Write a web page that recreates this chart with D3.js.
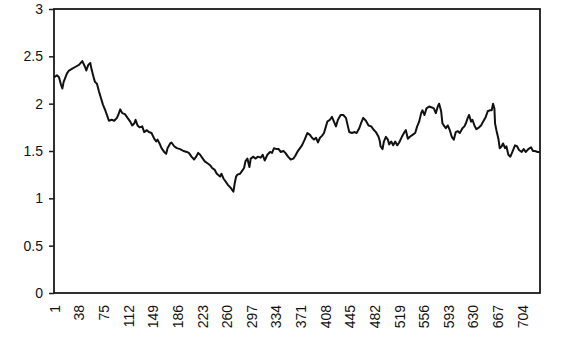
<!DOCTYPE html>
<html>
<head>
<meta charset="utf-8">
<script src="https://cdn.jsdelivr.net/npm/d3@7"></script>
<style>
  body { margin: 0; background: #fff; }
  svg { display: block; }
  .chart text { font-family: "Liberation Sans", Arial, sans-serif; font-size: 14px; fill: #111; }
</style>
</head>
<body>
<div class="chart"></div>
<script>
// day number (category) and the value
const days = [1, 5, 8, 11, 13, 15, 20, 23, 28, 33, 38, 43, 47, 49, 52, 55, 57, 60, 62, 65,
  68, 71, 74, 78, 81, 83, 87, 91, 95, 97, 100, 103, 107, 111, 115, 118, 121, 123, 126, 129,
  133, 136, 140, 143, 147, 151, 154, 156, 159, 162, 166, 169, 171, 175, 177, 181, 185, 190, 195, 200,
  203, 207, 211, 214, 217, 220, 224, 227, 231, 235, 238, 242, 245, 250, 252, 255, 258, 262, 266, 270,
  272, 274, 276, 280, 283, 286, 288, 291, 294, 296, 300, 303, 307, 311, 314, 317, 321, 325, 328, 331,
  335, 338, 341, 345, 348, 352, 356, 360, 363, 366, 370, 373, 377, 381, 385, 388, 391, 394, 397, 400,
  403, 406, 409, 411, 415, 418, 421, 424, 427, 431, 435, 439, 442, 444, 448, 452, 455, 459, 462, 465,
  469, 473, 477, 480, 484, 488, 490, 491, 494, 496, 499, 502, 504, 507, 510, 513, 516, 519, 523, 527,
  529, 532, 535, 539, 543, 546, 549, 552, 554, 557, 560, 564, 568, 571, 574, 577, 579, 582, 584, 587,
  589, 592, 595, 598, 601, 604, 607, 610, 614, 617, 619, 622, 624, 627, 629, 632, 635, 639, 642, 645,
  649, 652, 655, 658, 660, 662, 663, 665, 668, 670, 673, 675, 678, 680, 683, 686, 689, 693, 696, 699,
  703, 706, 709, 713, 717, 720, 723, 727, 730];
const values = [2.28, 2.30, 2.28, 2.20, 2.16, 2.23, 2.32, 2.35, 2.37, 2.39, 2.41, 2.45, 2.39, 2.35, 2.41, 2.43, 2.36, 2.28, 2.23, 2.21,
  2.13, 2.06, 1.99, 1.92, 1.86, 1.82, 1.83, 1.82, 1.85, 1.88, 1.94, 1.90, 1.89, 1.85, 1.81, 1.77, 1.79, 1.83, 1.77, 1.75,
  1.76, 1.70, 1.72, 1.70, 1.69, 1.63, 1.60, 1.62, 1.58, 1.53, 1.49, 1.47, 1.53, 1.58, 1.59, 1.55, 1.53, 1.52, 1.50, 1.49,
  1.48, 1.44, 1.41, 1.44, 1.48, 1.46, 1.42, 1.39, 1.37, 1.35, 1.32, 1.30, 1.26, 1.23, 1.26, 1.21, 1.18, 1.14, 1.11, 1.07,
  1.16, 1.23, 1.25, 1.26, 1.29, 1.32, 1.39, 1.42, 1.33, 1.42, 1.44, 1.42, 1.44, 1.43, 1.46, 1.40, 1.46, 1.49, 1.48, 1.53,
  1.52, 1.52, 1.49, 1.50, 1.48, 1.44, 1.41, 1.42, 1.45, 1.49, 1.53, 1.56, 1.62, 1.69, 1.67, 1.64, 1.62, 1.64, 1.59, 1.64,
  1.66, 1.69, 1.76, 1.81, 1.83, 1.86, 1.81, 1.76, 1.83, 1.88, 1.88, 1.85, 1.76, 1.70, 1.69, 1.70, 1.69, 1.74, 1.80, 1.85,
  1.82, 1.77, 1.76, 1.73, 1.70, 1.65, 1.60, 1.55, 1.52, 1.60, 1.65, 1.62, 1.57, 1.60, 1.56, 1.60, 1.56, 1.59, 1.65, 1.70,
  1.72, 1.63, 1.65, 1.67, 1.69, 1.76, 1.81, 1.90, 1.93, 1.88, 1.95, 1.97, 1.96, 1.95, 1.90, 1.97, 2.00, 1.92, 1.79, 1.76,
  1.74, 1.77, 1.72, 1.65, 1.62, 1.70, 1.71, 1.69, 1.74, 1.76, 1.79, 1.85, 1.88, 1.81, 1.83, 1.77, 1.73, 1.75, 1.77, 1.81,
  1.86, 1.92, 1.93, 1.93, 2.00, 1.95, 1.79, 1.72, 1.63, 1.53, 1.55, 1.58, 1.53, 1.55, 1.46, 1.44, 1.49, 1.56, 1.55, 1.51,
  1.49, 1.52, 1.49, 1.52, 1.54, 1.50, 1.50, 1.49, 1.49];
const dayCount = 730;
const xLabels = [1, 38, 75, 112, 149, 186, 223, 260, 297, 334, 371, 408, 445, 482, 519, 556, 593, 630, 667, 704];
const yTicks = [0, 0.5, 1, 1.5, 2, 2.5, 3];

const margin = { top: 9, right: 39, bottom: 45, left: 54 };
const width = 579 - margin.left - margin.right;
const height = 338 - margin.top - margin.bottom;

const svg = d3.select(".chart")
  .append("svg")
  .attr("width", 579)
  .attr("height", 338)
  .append("g")
  .attr("transform", `translate(${margin.left}, ${margin.top})`);

const x = d3.scaleLinear()
  .domain([0.5, dayCount + 0.5])
  .range([0, width]);

const y = d3.scaleLinear()
  .domain([0, 3])
  .range([height, 0]);

// frame round the plot
svg.append("rect")
  .attr("width", width)
  .attr("height", height)
  .attr("fill", "none")
  .attr("stroke", "#1a1a1a")
  .attr("stroke-width", 1.8);

// Y axis
const yAxis = svg.append("g")
  .call(d3.axisLeft(y).tickValues(yTicks).tickFormat(d => String(d)).tickSize(5).tickPadding(6));
yAxis.select(".domain").remove();
yAxis.selectAll("line").attr("stroke", "#1a1a1a").attr("stroke-width", 1.5);

// X axis, labels turned on their side
const xAxis = svg.append("g")
  .attr("transform", `translate(0, ${height})`)
  .call(d3.axisBottom(x).tickValues(xLabels).tickSize(0).tickFormat(d => String(d)));
xAxis.select(".domain").remove();
xAxis.selectAll("text")
  .attr("transform", "rotate(-90)")
  .attr("text-anchor", "end")
  .attr("x", -12)
  .attr("y", 0)
  .attr("dy", "0.35em");

// the series
const line = d3.line()
  .x((d, i) => x(days[i]))
  .y(d => y(d));

svg.append("path")
  .datum(values)
  .attr("fill", "none")
  .attr("stroke", "#111")
  .attr("stroke-width", 2)
  .attr("stroke-linejoin", "round")
  .attr("d", line);
</script>
</body>
</html>
